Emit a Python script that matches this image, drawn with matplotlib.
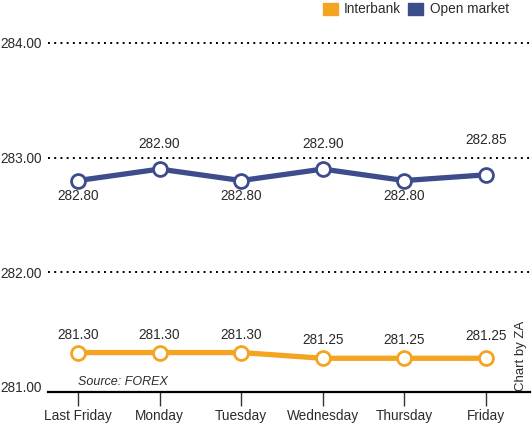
import matplotlib.pyplot as plt

days = ["Last Friday", "Monday", "Tuesday", "Wednesday", "Thursday", "Friday"]
interbank = [281.30, 281.30, 281.30, 281.25, 281.25, 281.25]
open_market = [282.80, 282.90, 282.80, 282.90, 282.80, 282.85]
yticks = [281.00, 282.00, 283.00, 284.00]

orange = "#F5A421"
navy = "#3D4C8B"
txt = "#2b2b2b"

plt.rcParams['font.family'] = ['Liberation Sans', 'DejaVu Sans']
fs = 9.8

fig = plt.figure(figsize=(5.32, 4.26), dpi=100)
ax = fig.add_axes([0.0902, 0.0798, 0.906, 0.8498])

x = list(range(len(days)))

for val in yticks[1:]:
    ax.axhline(val, color="black", linestyle=(0, (1, 2.2)), linewidth=1.4, zorder=1)

ax.plot(x, open_market, color=navy, linewidth=3.8, marker="o", markersize=10,
        markerfacecolor="white", markeredgecolor=navy, markeredgewidth=2, zorder=3)
ax.plot(x, interbank, color=orange, linewidth=3.8, marker="o", markersize=10,
        markerfacecolor="white", markeredgecolor=orange, markeredgewidth=2, zorder=3)

# value labels
for i, v in enumerate(open_market):
    if i in (0, 2, 4):
        ax.annotate(f"{v:.2f}", (i, v), xytext=(0, -11), textcoords="offset points",
                    ha="center", va="center", fontsize=fs, color=txt)
    else:
        off = 25 if i == 5 else 18
        ax.annotate(f"{v:.2f}", (i, v), xytext=(0, off), textcoords="offset points",
                    ha="center", va="center", fontsize=fs, color=txt)

for i, v in enumerate(interbank):
    off = 16 if i == 5 else 13
    ax.annotate(f"{v:.2f}", (i, v), xytext=(0, off), textcoords="offset points",
                ha="center", va="center", fontsize=fs, color=txt)

ax.set_xlim(-0.368, 5.54)
ax.set_ylim(280.956, 284.113)
ax.set_xticks(x)
ax.set_xticklabels(days, fontsize=fs, color=txt)
ax.set_yticks(yticks)
ax.set_yticklabels([f"{t:.2f}" for t in yticks], fontsize=fs, color=txt, ha="left")
ax.tick_params(axis="y", length=0, pad=34)
ax.tick_params(axis="x", length=10, width=1, color="#333333", pad=2)

for s in ["top", "right", "left"]:
    ax.spines[s].set_visible(False)
ax.spines["bottom"].set_linewidth(1.6)
ax.spines["bottom"].set_color("black")

fig.text(78 / 532, 1 - 382 / 426, "Source: FOREX", fontsize=9, style="italic",
         color=txt, va="center")

fig.text(521 / 532, 1 - 356 / 426, "Chart by ZA", rotation=90, ha="center", va="center",
         fontsize=9.5, color=txt)

# legend squares
fig.patches.append(plt.Rectangle((323 / 532, 1 - 15 / 426), 15 / 532, 12 / 426,
                                 transform=fig.transFigure, color=orange))
fig.text(344 / 532, 1 - 9 / 426, "Interbank", fontsize=fs, color=txt, va="center")
fig.patches.append(plt.Rectangle((408 / 532, 1 - 15 / 426), 15 / 532, 12 / 426,
                                 transform=fig.transFigure, color=navy))
fig.text(430 / 532, 1 - 9 / 426, "Open market", fontsize=fs, color=txt, va="center")

fig.savefig("out.png", dpi=100)
